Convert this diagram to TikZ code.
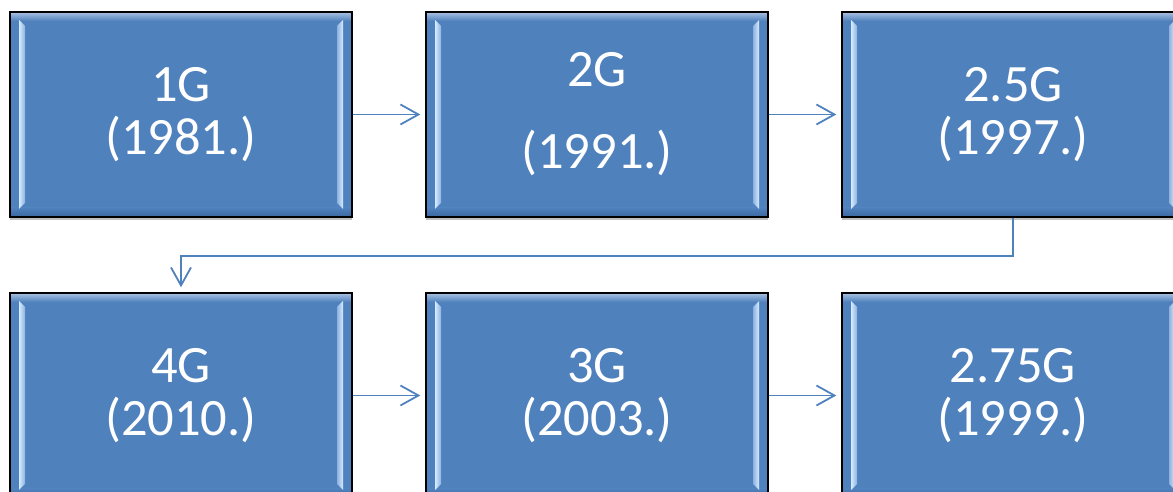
\documentclass[tikz,border=0pt]{standalone}
\usepackage{fontspec}
\setmainfont{Carlito}
\usetikzlibrary{arrows.meta,calc,shadows}
\definecolor{boxblue}{HTML}{4F81BD}
\definecolor{lightedge}{HTML}{D6EAFF}
\definecolor{midedge}{HTML}{8DB2E0}
\definecolor{topedge}{HTML}{A9C2E2}
\definecolor{botedge}{HTML}{3A679E}
\tikzset{
  genbox/.style={draw=black, line width=1.4pt, fill=boxblue,
    minimum width=342pt, minimum height=205pt, inner sep=0pt,
    text=white, align=center, font=\fontsize{52.5}{53}\selectfont,
    drop shadow={shadow xshift=0pt, shadow yshift=-3pt, opacity=0.25, fill=black},
    path picture={
      \coordinate (nw) at (path picture bounding box.north west);
      \coordinate (se) at (path picture bounding box.south east);
      \fill[top color=topedge, bottom color=boxblue]
        (nw) rectangle ($(nw -| se)+(0,-9)$);
      \fill[top color=boxblue, bottom color=botedge]
        ($(se -| nw)+(0,9)$) rectangle (se);
      \fill[left color=lightedge, right color=midedge]
        ($(nw)+(9,-8)$) -- ($(nw)+(15,-14)$) -- ($(se -| nw)+(15,14)$) -- ($(se -| nw)+(9,8)$) -- cycle;
      \fill[left color=midedge, right color=lightedge]
        ($(nw -| se)+(-9,-8)$) -- ($(nw -| se)+(-15,-14)$) -- ($(se)+(-15,14)$) -- ($(se)+(-9,8)$) -- cycle;
    }},
  conn/.style={draw=boxblue, line width=1.8pt,
    -{Straight Barb[length=18pt, width=20pt]}, shorten >=5pt}
}
\begin{document}
\begin{tikzpicture}[x=1pt, y=1pt]
\path[use as bounding box, clip] (0,0) rectangle (1173,492);
\node[genbox] (g1)  at (181,377.5) {1G\\(1981.)};
\node[genbox] (g2)  at (597,377.5) {2G\\[29pt](1991.)};
\node[genbox] (g25) at (1013,377.5) {2.5G\\(1997.)};
\node[genbox] (g4)  at (181,96.5) {4G\\(2010.)};
\node[genbox] (g3)  at (597,96.5) {3G\\(2003.)};
\node[genbox] (g275) at (1013,96.5) {2.75G\\(1999.)};
\draw[conn] (g1.east) -- (g2.west);
\draw[conn] (g2.east) -- (g25.west);
\draw[conn] (g25.south) -- ++(0,-38) -| (g4.north);
\draw[conn] (g4.east) -- (g3.west);
\draw[conn] (g3.east) -- (g275.west);
\end{tikzpicture}
\end{document}
